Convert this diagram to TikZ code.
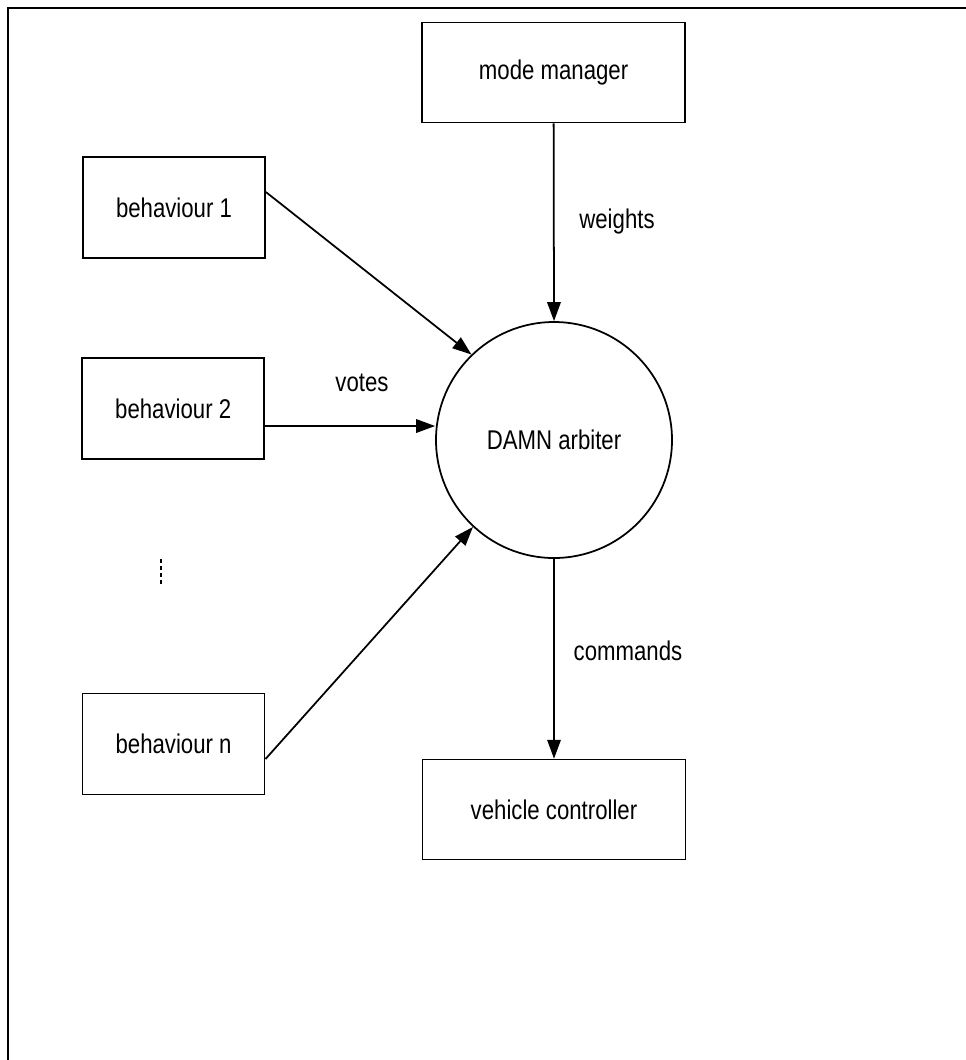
\documentclass[tikz,border=0pt]{standalone}
\usepackage{fontspec}
\setmainfont{Liberation Sans}[FakeStretch=0.82]
\usetikzlibrary{arrows.meta,calc}

\begin{document}
\begin{tikzpicture}[scale=0.4,
		box/.style={draw, line width=1pt, minimum width=3.64cm, minimum height=2.02cm, inner sep=0pt},
		widebox/.style={box, minimum width=5.26cm, minimum height=2cm},
		arbiter/.style={draw, circle, line width=1pt, minimum size=4.72cm, inner sep=0pt},
		vote/.style={line width=1pt, -{Triangle[length=0.38cm, width=0.27cm]}}]
		\tikzstyle{every node}+=[font=\fontsize{15.4}{18}\selectfont]
		\useasboundingbox (0,0) rectangle (48.3,-53);
		% frame
		\draw [line width=1.5pt] (0.4,-53) -- (0.4,-0.4) -- (48.3,-0.4);
		% boxes
		\node [widebox] (mode) at (27.68,-3.63) {mode manager};
		\node [box] (b1) at (8.7,-10.38) {behaviour 1};
		\node [box] (b2) at (8.66,-20.43) {behaviour 2};
		\node [box] (bn) at (8.68,-37.2) {behaviour n};
		\node [arbiter] (damn) at (27.7,-22) {DAMN arbiter};
		\node [widebox] (vc) at (27.7,-40.48) {vehicle controller};
		% dots
		\draw [line width=1.3pt, dash pattern=on 0.08cm off 0.06cm] (8.05,-27.95) -- (8.05,-29.25);
		% arrows
		\draw [vote] ($(b1.east)+(0,0.78)$) -- (damn.134);
		\draw [vote] ($(b2.east)+(0,-0.87)$) -- (damn.west |- {$(b2.east)+(0,-0.87)$});
		\draw [vote] ($(bn.east)+(0,-0.75)$) -- (damn.227);
		\draw [vote] (mode.south) -- (damn.north);
		\draw [vote] (damn.south) -- (vc.north);
		% labels
		\node (weights) at (30.85,-11.05) {weights};
		\node (votes) at (18.1,-19.15) {votes};
		\node (commands) at (31.4,-32.55) {commands};
\end{tikzpicture}
\end{document}
